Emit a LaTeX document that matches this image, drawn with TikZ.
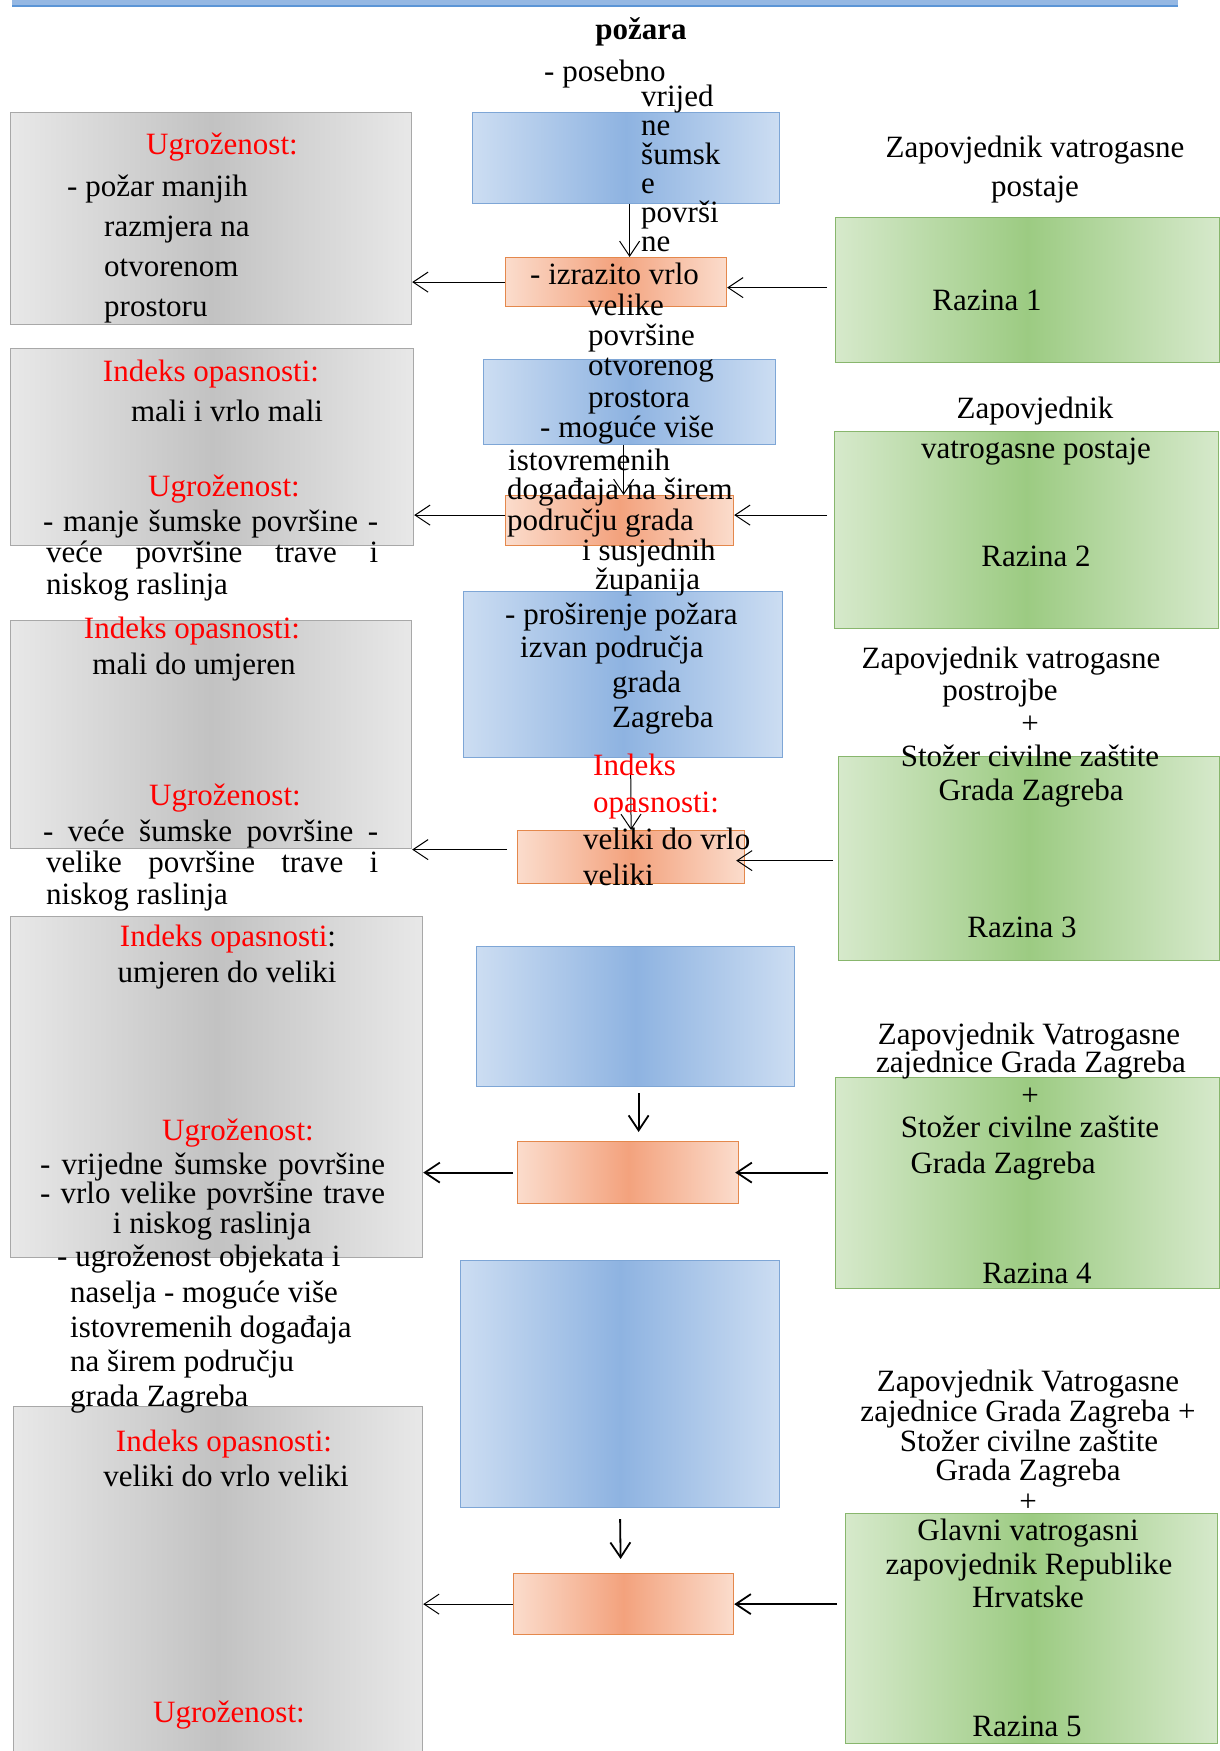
\documentclass[tikz,border=0pt]{standalone}
\usepackage{fontspec}
\setmainfont{Liberation Serif}
\usepackage{xcolor}
\usetikzlibrary{arrows.meta}

\definecolor{barblue}{HTML}{95B8E3}
\definecolor{barline}{HTML}{5B95D6}
\definecolor{blueedge}{HTML}{CCDDF2}
\definecolor{bluemid}{HTML}{8EB3E1}
\definecolor{blueline}{HTML}{7EA6D6}
\definecolor{orangeedge}{HTML}{FBDCCC}
\definecolor{orangemid}{HTML}{F3A27D}
\definecolor{orangeline}{HTML}{E4884C}
\definecolor{greenedge}{HTML}{D6E9CB}
\definecolor{greenmid}{HTML}{9CCB82}
\definecolor{greenline}{HTML}{88B66D}
\definecolor{grayedge}{HTML}{E8E8E8}
\definecolor{graymid}{HTML}{C2C2C2}
\definecolor{grayline}{HTML}{A8A8A8}

\tikzset{
  ln/.style={inner sep=0pt, text height=23pt, text depth=5pt, font=\fontsize{31}{34}\selectfont},
  lnw/.style={ln, anchor=west},
  rd/.style={ln, text=red},
  box/.style={inner sep=0pt, anchor=north west, line width=1.2pt},
  graybox/.style={box, draw=grayline, left color=grayedge, right color=grayedge, middle color=graymid},
  bluebox/.style={box, draw=blueline, left color=blueedge, right color=blueedge, middle color=bluemid},
  orangebox/.style={box, draw=orangeline, left color=orangeedge, right color=orangeedge, middle color=orangemid},
  greenbox/.style={box, draw=greenline, left color=greenedge, right color=greenedge, middle color=greenmid},
  arr/.style={-{Straight Barb[length=15pt,width=20pt]}, line width=1pt},
  arrthick/.style={arr, line width=1.8pt}
}

\begin{document}
\begin{tikzpicture}[x=1pt,y=-1pt]
\fill[white] (0,0) rectangle (1219,1751);
\useasboundingbox (0,0) rectangle (1219,1751);

% Top bar
\fill[barblue] (12,0) rectangle (1178,6);
\draw[barline, line width=1.5pt] (12,6) -- (1178,6);

% Left boxes
\node[graybox, minimum width=401pt, minimum height=212pt] (g1) at (10,112) {};
\node[graybox, minimum width=403pt, minimum height=197pt] (g2) at (10,348) {};
\node[graybox, minimum width=401pt, minimum height=228pt] (g3) at (10,620) {};
\node[graybox, minimum width=412pt, minimum height=341pt] (g4) at (10,916) {};
\node[graybox, minimum width=409pt, minimum height=360pt] (g5) at (13,1406) {};

% Middle boxes
\node[bluebox, minimum width=307pt, minimum height=91pt] (b1) at (472,112) {};
\node[bluebox, minimum width=292pt, minimum height=85pt] (b2) at (483,359) {};
\node[bluebox, minimum width=319pt, minimum height=166pt] (b3) at (463,591) {};
\node[bluebox, minimum width=318pt, minimum height=140pt] (b4) at (476,946) {};
\node[bluebox, minimum width=319pt, minimum height=247pt] (b5) at (460,1260) {};
\node[orangebox, minimum width=221pt, minimum height=49pt] (o1) at (505,257) {};
\node[orangebox, minimum width=228pt, minimum height=50pt] (o2) at (505,495) {};
\node[orangebox, minimum width=227pt, minimum height=53pt] (o3) at (517,830) {};
\node[orangebox, minimum width=221pt, minimum height=62pt] (o4) at (517,1141) {};
\node[orangebox, minimum width=220pt, minimum height=61pt] (o5) at (513,1573) {};

% Right boxes
\node[greenbox, minimum width=384pt, minimum height=145pt] (z1) at (835,217) {};
\node[greenbox, minimum width=384pt, minimum height=197pt] (z2) at (834,431) {};
\node[greenbox, minimum width=381pt, minimum height=204pt] (z3) at (838,756) {};
\node[greenbox, minimum width=384pt, minimum height=211pt] (z4) at (835,1077) {};
\node[greenbox, minimum width=372pt, minimum height=230pt] (z5) at (845,1513) {};

% Arrows down
\draw[arr] ([xshift=3.5pt]b1.south) -- ([xshift=13.5pt]o1.north);
\draw[arr] ([xshift=-6pt]b2.south) -- ([xshift=4pt]o2.north);
\draw[arr] ([xshift=7.5pt]b3.south) -- (o3.north);
\draw[arrthick] ([xshift=3pt,yshift=-6pt]b4.south) -- ([xshift=10.5pt,yshift=9pt]o4.north);
\draw[arrthick] ([yshift=-11pt]b5.south) -- ([xshift=-3pt,yshift=14pt]o5.north);

% Arrows left
\draw[arr] (o1.west) -- (o1.west -| g1.east);
\draw[arr] ([yshift=5.5pt]o2.west) -- ([yshift=5.5pt]o2.west -| g2.east);
\draw[arr] ([xshift=-10pt,yshift=7.5pt]o3.west) -- ([yshift=7.5pt]o3.west -| g3.east);
\draw[arrthick] ([xshift=-4pt]o4.west) -- (o4.west -| g4.east);
\draw[arr] (o5.west) -- (o5.west -| g5.east);

% Arrows right
\draw[arr] ([xshift=-8pt,yshift=-5.5pt]o1.east -| z1.west) -- ([yshift=-5.5pt]o1.east);
\draw[arr] ([xshift=-7pt,yshift=5.5pt]o2.east -| z2.west) -- ([yshift=5.5pt]o2.east);
\draw[arr] ([xshift=-5pt,yshift=-3.5pt]o3.east -| z3.west) -- ([xshift=-9pt,yshift=-3.5pt]o3.east);
\draw[arrthick] ([xshift=-7pt]o4.east -| z4.west) -- ([xshift=-4pt]o4.east);
\draw[arrthick] ([xshift=-8pt]o5.east -| z5.west) -- (o5.east);

% Middle text
\node[ln, font=\fontsize{31}{34}\selectfont\bfseries] (pz) at (641,30) {požara};
\node[lnw] (m1) at (544,72) {- posebno};
\node[lnw] (m2) at (641,97) {vrijed};
\node[lnw] (m3) at (641,126) {ne};
\node[lnw] (m4) at (641,155) {šumsk};
\node[lnw] (m5) at (641,184) {e};
\node[lnw] (m6) at (641,213) {površi};
\node[lnw] (m7) at (641,242) {ne};
\node[lnw] (m8) at (530,275) {- izrazito vrlo};
\node[lnw] (m9) at (588,306) {velike};
\node[lnw] (m10) at (588,336) {površine};
\node[lnw] (m11) at (588,366) {otvorenog};
\node[lnw] (m12) at (588,398) {prostora};
\node[lnw] (m13) at (540,428) {- moguće više};
\node[lnw] (m14) at (508,461) {istovremenih};
\node[lnw] (m15) at (507,490) {događaja na širem};
\node[lnw] (m16) at (507,521) {području grada};
\node[lnw] (m17) at (582,551) {i susjednih};
\node[lnw] (m18) at (595,580) {županija};
\node[lnw] (m19) at (505,615) {- proširenje požara};
\node[lnw] (m20) at (520,648) {izvan područja};
\node[lnw] (m21) at (612,683) {grada};
\node[lnw] (m22) at (612,718) {Zagreba};
\node[rd, anchor=west] (m23) at (593,766) {Indeks};
\node[rd, anchor=west] (m24) at (593,803) {opasnosti:};
\node[lnw] (m25) at (583,840) {veliki do vrlo};
\node[lnw] (m26) at (583,876) {veliki};

% Left text
\node[rd] (l1) at (222,145) {Ugroženost:};
\node[lnw] (l2) at (67,187) {- požar manjih};
\node[lnw] (l3) at (104,227) {razmjera na};
\node[lnw] (l4) at (104,267) {otvorenom};
\node[lnw] (l5) at (104,307) {prostoru};
\node[rd] (l6) at (211,372) {Indeks opasnosti:};
\node[ln] (l7) at (227,412) {mali i vrlo mali};
\node[rd] (l8) at (224,487) {Ugroženost:};
\node[lnw] (l9) at (43,522) {\makebox[335pt][s]{- manje šumske površine -}};
\node[lnw] (l10) at (46,553) {\makebox[332pt][s]{veće površine trave i}};
\node[lnw] (l11) at (46,585) {niskog raslinja};
\node[rd] (l12) at (192,629) {Indeks opasnosti:};
\node[ln] (l13) at (194,665) {mali do umjeren};
\node[rd] (l14) at (225,796) {Ugroženost:};
\node[lnw] (l15) at (43,832) {\makebox[335pt][s]{- veće šumske površine -}};
\node[lnw] (l16) at (46,863) {\makebox[332pt][s]{velike površine trave i}};
\node[lnw] (l17) at (46,895) {niskog raslinja};
\node[ln] (l18) at (228,937) {\textcolor{red}{Indeks opasnosti}:};
\node[ln] (l19) at (227,973) {umjeren do veliki};
\node[rd] (l20) at (238,1131) {Ugroženost:};
\node[lnw] (l21) at (40,1165) {\makebox[345pt][s]{- vrijedne šumske površine}};
\node[lnw] (l22) at (40,1194) {\makebox[345pt][s]{- vrlo velike površine trave}};
\node[ln] (l23) at (212,1224) {i niskog raslinja};
\node[lnw] (l24) at (57,1257) {- ugroženost objekata i};
\node[lnw] (l25) at (70,1293) {naselja - moguće više};
\node[lnw] (l26) at (70,1328) {istovremenih događaja};
\node[lnw] (l27) at (70,1362) {na širem području};
\node[lnw] (l28) at (70,1397) {grada Zagreba};
\node[rd] (l29) at (224,1442) {Indeks opasnosti:};
\node[ln] (l30) at (226,1477) {veliki do vrlo veliki};
\node[rd] (l31) at (229,1713) {Ugroženost:};

% Right text
\node[ln] (r1) at (1035,148) {Zapovjednik vatrogasne};
\node[ln] (r2) at (1035,187) {postaje};
\node[ln] (r3) at (987,301) {Razina 1};
\node[ln] (r4) at (1035,409) {Zapovjednik};
\node[ln] (r5) at (1036,449) {vatrogasne postaje};
\node[ln] (r6) at (1036,557) {Razina 2};
\node[ln] (r7) at (1011,659) {Zapovjednik vatrogasne};
\node[ln] (r8) at (1000,691) {postrojbe};
\node[ln] (r9) at (1030,724) {+};
\node[ln] (r10) at (1030,757) {Stožer civilne zaštite};
\node[ln] (r11) at (1031,791) {Grada Zagreba};
\node[ln] (r12) at (1022,928) {Razina 3};
\node[ln] (r13) at (1029,1035) {Zapovjednik Vatrogasne};
\node[ln] (r14) at (1031,1063) {zajednice Grada Zagreba};
\node[ln] (r15) at (1030,1096) {+};
\node[ln] (r16) at (1030,1128) {Stožer civilne zaštite};
\node[ln] (r17) at (1003,1164) {Grada Zagreba};
\node[ln] (r18) at (1037,1274) {Razina 4};
\node[ln] (r19) at (1028,1382) {Zapovjednik Vatrogasne};
\node[ln] (r20) at (1028,1412) {zajednice Grada Zagreba +};
\node[ln] (r21) at (1029,1442) {Stožer civilne zaštite};
\node[ln] (r22) at (1028,1471) {Grada Zagreba};
\node[ln] (r23) at (1028,1502) {+};
\node[ln] (r24) at (1028,1531) {Glavni vatrogasni};
\node[ln] (r25) at (1029,1565) {zapovjednik Republike};
\node[ln] (r26) at (1028,1598) {Hrvatske};
\node[ln] (r27) at (1027,1727) {Razina 5};
\end{tikzpicture}
\end{document}
